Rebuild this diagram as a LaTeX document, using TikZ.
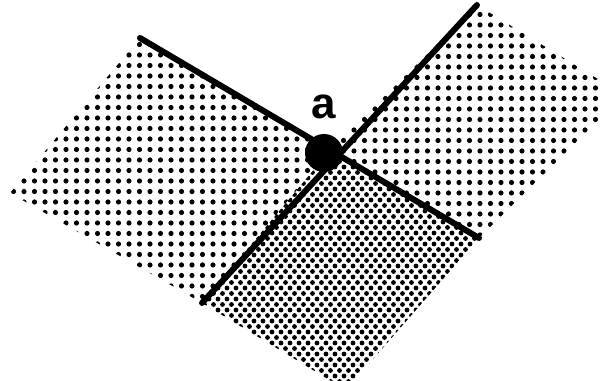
\documentclass[tikz,border=0pt]{standalone}
\usepackage{fontspec}
\newfontfamily\labelfont{Liberation Sans}
\usetikzlibrary{positioning}

\begin{document}
\begin{tikzpicture}[x=0.02cm,y=-0.02cm,
  edge/.style={line width=0.12cm,line cap=round},
  vertex/.style={circle,fill=black,inner sep=0pt,minimum size=0.76cm},
  tag/.style={font=\labelfont\bfseries\fontsize{25}{25}\selectfont,inner sep=0pt}
]
  \useasboundingbox (0,0) rectangle (603,381);
  \coordinate (ul) at (140,38);
  \coordinate (lr) at (479,238);
  \coordinate (ur) at (477,5);
  \coordinate (ll) at (202,303);
  \coordinate (m) at (332,148);
  \coordinate (w) at (10,193);
  \coordinate (e) at (624,95);
  \coordinate (s) at (346,390);

  % coarse dots, left region
  \begin{scope}
    \clip (ul) -- (m) -- (ll) -- (w) -- cycle;
    \foreach \i in {0,...,32}
      \foreach \j in {0,...,26}
        \fill (3+10.5*\i,34+10.5*\j) circle[radius=0.052cm];
  \end{scope}
  % coarse dots, right region
  \begin{scope}
    \clip (0,0) rectangle (603,381);
    \clip (ur) -- (e) -- (lr) -- (m) -- cycle;
    \foreach \i in {0,...,27}
      \foreach \j in {0,...,23}
        \fill (333+10.5*\i,4+10.5*\j) circle[radius=0.052cm];
  \end{scope}
  % fine dots, lower region
  \begin{scope}
    \clip (0,0) rectangle (603,381);
    \clip (m) -- (lr) -- (s) -- (ll) -- cycle;
    \foreach \i in {0,...,31}
      \foreach \j in {0,...,21} {
        \fill (200+9*\i,145+11*\j) circle[radius=0.048cm];
        \fill (204.5+9*\i,150.5+11*\j) circle[radius=0.048cm];
      }
  \end{scope}

  \draw[edge] (ul) -- (lr);
  \draw[edge] (ur) -- (ll);
  \node[vertex] (a) at (324,153) {};
  \node[tag,above=0.28cm of a] (lbl) {a};
\end{tikzpicture}
\end{document}
